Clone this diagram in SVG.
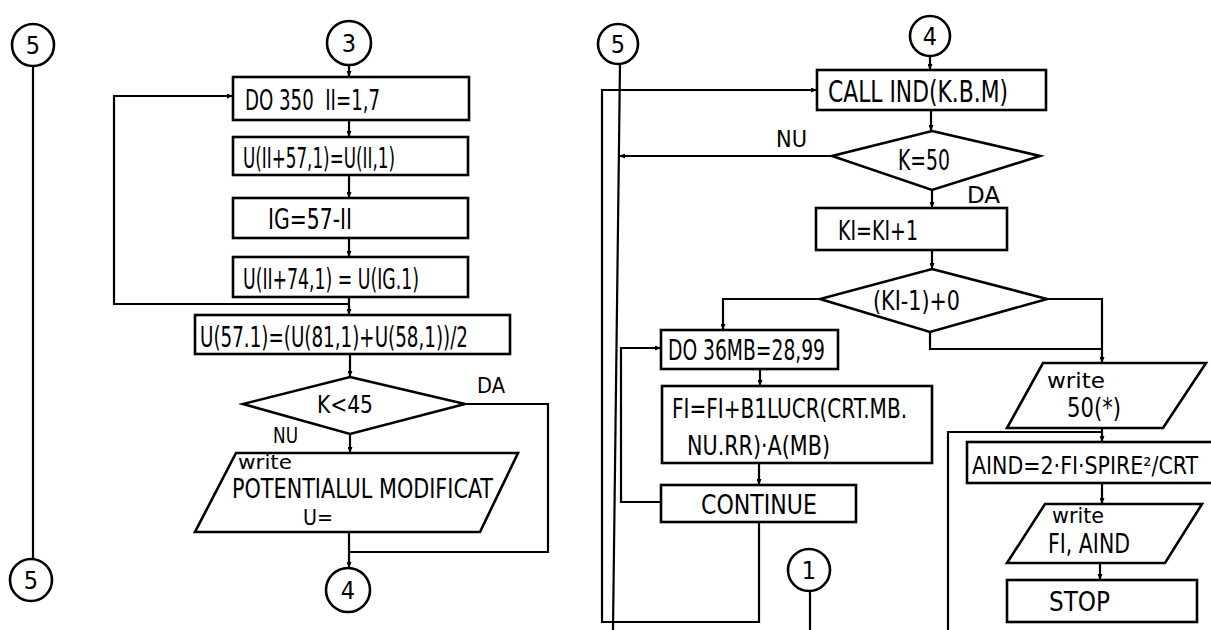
<svg xmlns="http://www.w3.org/2000/svg" width="1211" height="630" viewBox="0 0 1211 630">
<style>
.l{fill:none;stroke:#000;stroke-width:2.2}
.s{fill:#fff;stroke:#000;stroke-width:2.6}
text{font-family:"Liberation Sans Narrow","DejaVu Sans Condensed","Liberation Sans",sans-serif;fill:#000}
.c{text-anchor:middle;font-size:25px}
</style>
<defs>
<marker id="a" markerWidth="6" markerHeight="5" refX="6" refY="2.5" orient="auto" markerUnits="userSpaceOnUse"><path d="M0,0 L6,2.5 L0,5 z" fill="#000"/></marker>
</defs>
<rect width="1211" height="630" fill="#fff"/>
<g id="connectors">
<line class="l" x1="33" y1="67" x2="33" y2="558"/>
<line class="l" x1="349" y1="65" x2="349" y2="77" marker-end="url(#a)"/>
<line class="l" x1="349" y1="120" x2="349" y2="137" marker-end="url(#a)"/>
<line class="l" x1="349" y1="175" x2="349" y2="198" marker-end="url(#a)"/>
<line class="l" x1="349" y1="238" x2="349" y2="257" marker-end="url(#a)"/>
<line class="l" x1="349" y1="297" x2="349" y2="315" marker-end="url(#a)"/>
<polyline class="l" points="349,304 114,304 114,96 233,96" marker-end="url(#a)"/>
<line class="l" x1="350" y1="354" x2="350" y2="377" marker-end="url(#a)"/>
<line class="l" x1="350" y1="434" x2="350" y2="453" marker-end="url(#a)"/>
<line class="l" x1="349" y1="532" x2="349" y2="568" marker-end="url(#a)"/>
<polyline class="l" points="465,404 548,404 548,552 349,552"/>
<line class="l" x1="620" y1="64" x2="613" y2="630"/>
<line class="l" x1="930" y1="56" x2="930" y2="70" marker-end="url(#a)"/>
<line class="l" x1="931" y1="110" x2="931" y2="131" marker-end="url(#a)"/>
<line class="l" x1="832" y1="156" x2="619" y2="156" marker-end="url(#a)"/>
<line class="l" x1="932" y1="190" x2="932" y2="208" marker-end="url(#a)"/>
<line class="l" x1="932" y1="250" x2="932" y2="269" marker-end="url(#a)"/>
<polyline class="l" points="820,299 723,299 723,330" marker-end="url(#a)"/>
<polyline class="l" points="1047,299 1102,299 1102,363" marker-end="url(#a)"/>
<polyline class="l" points="930,332 930,349 1102,349"/>
<line class="l" x1="760" y1="369" x2="760" y2="386" marker-end="url(#a)"/>
<line class="l" x1="759" y1="463" x2="759" y2="485" marker-end="url(#a)"/>
<polyline class="l" points="661,502 621,502 621,348 661,348" marker-end="url(#a)"/>
<polyline class="l" points="759,522 759,622 602,622 602,90 817,90" marker-end="url(#a)"/>
<line class="l" x1="810" y1="591" x2="810" y2="630"/>
<line class="l" x1="1102" y1="428" x2="1102" y2="442" marker-end="url(#a)"/>
<polyline class="l" points="948,630 948,432 1102,432"/>
<line class="l" x1="1102" y1="483" x2="1102" y2="504" marker-end="url(#a)"/>
<line class="l" x1="1100" y1="563" x2="1100" y2="580" marker-end="url(#a)"/>
</g>
<g id="c5a"><circle class="s" cx="33" cy="45" r="21"/><text class="c" x="33" y="54">5</text></g>
<g id="c5b"><circle class="s" cx="31" cy="580" r="21"/><text class="c" x="31" y="589">5</text></g>
<g id="c3"><circle class="s" cx="349" cy="43" r="22"/><text class="c" x="349" y="52">3</text></g>
<g id="do350"><rect class="s" x="233" y="77" width="236" height="43"/><text xml:space="preserve" font-size="29" x="245" y="110" textLength="135" lengthAdjust="spacingAndGlyphs">DO 350  II=1,7</text></g>
<g id="b2"><rect class="s" x="233" y="137" width="235" height="38"/><text font-size="29" x="243" y="168" textLength="152" lengthAdjust="spacingAndGlyphs">U(II+57,1)=U(II,1)</text></g>
<g id="b3"><rect class="s" x="233" y="198" width="235" height="40"/><text font-size="29" x="268" y="229" textLength="84" lengthAdjust="spacingAndGlyphs">IG=57-II</text></g>
<g id="b4"><rect class="s" x="233" y="257" width="235" height="40"/><text font-size="29" x="243" y="289" textLength="176" lengthAdjust="spacingAndGlyphs">U(II+74,1) = U(IG.1)</text></g>
<g id="b5"><rect class="s" x="195" y="315" width="315" height="39"/><text font-size="29" x="200" y="347" textLength="268" lengthAdjust="spacingAndGlyphs">U(57.1)=(U(81,1)+U(58,1))/2</text></g>
<g id="d45"><polygon class="s" points="350,377 465,404 350,434 243,404"/><text font-size="25" x="317" y="413" textLength="56" lengthAdjust="spacingAndGlyphs">K&lt;45</text></g>
<text font-size="22" x="477" y="393" textLength="28" lengthAdjust="spacingAndGlyphs">DA</text>
<text font-size="22" x="273" y="443" textLength="25" lengthAdjust="spacingAndGlyphs">NU</text>
<g id="wpot"><polygon class="s" points="236,453 518,453 480,532 195,532"/><text font-size="19" x="238" y="469" textLength="54" lengthAdjust="spacingAndGlyphs">write</text><text font-size="26" x="232" y="498" textLength="261" lengthAdjust="spacingAndGlyphs">POTENTIALUL MODIFICAT</text><text font-size="22" x="303" y="525" textLength="30" lengthAdjust="spacingAndGlyphs">U=</text></g>
<g id="c4a"><circle class="s" cx="348" cy="590" r="22"/><text class="c" x="348" y="599">4</text></g>
<g id="c5c"><circle class="s" cx="618" cy="44" r="20"/><text class="c" x="618" y="53">5</text></g>
<g id="c4b"><circle class="s" cx="930" cy="36" r="20"/><text class="c" x="930" y="45">4</text></g>
<g id="call"><rect class="s" x="817" y="70" width="229" height="40"/><text font-size="30" x="828" y="102" textLength="180" lengthAdjust="spacingAndGlyphs">CALL IND(K.B.M)</text></g>
<g id="d50"><polygon class="s" points="932,131 1040,156 932,190 832,156"/><text font-size="28" x="898" y="170" textLength="52" lengthAdjust="spacingAndGlyphs">K=50</text></g>
<text font-size="23" x="776" y="147" textLength="31" lengthAdjust="spacingAndGlyphs">NU</text>
<text font-size="23" x="967" y="203" textLength="33" lengthAdjust="spacingAndGlyphs">DA</text>
<g id="ki"><rect class="s" x="816" y="208" width="191" height="42"/><text font-size="26" x="838" y="240" textLength="80" lengthAdjust="spacingAndGlyphs">KI=KI+1</text></g>
<g id="dki"><polygon class="s" points="932,269 1047,299 930,332 820,299"/><text font-size="26" x="873" y="310" textLength="87" lengthAdjust="spacingAndGlyphs">(KI-1)+0</text></g>
<g id="do36"><rect class="s" x="661" y="330" width="177" height="39"/><text font-size="29" x="668" y="360" textLength="157" lengthAdjust="spacingAndGlyphs">DO 36MB=28,99</text></g>
<g id="fi"><rect class="s" x="662" y="386" width="270" height="77"/><text font-size="27" x="672" y="418" textLength="235" lengthAdjust="spacingAndGlyphs">FI=FI+B1LUCR(CRT.MB.</text><text font-size="27" x="687" y="455" textLength="143" lengthAdjust="spacingAndGlyphs">NU.RR)·A(MB)</text></g>
<g id="cont"><rect class="s" x="661" y="485" width="195" height="37"/><text font-size="27" x="701" y="514" textLength="116" lengthAdjust="spacingAndGlyphs">CONTINUE</text></g>
<g id="c1"><circle class="s" cx="809" cy="570" r="21"/><text class="c" x="809" y="579">1</text></g>
<g id="w50"><polygon class="s" points="1043,363 1206,363 1163,428 1007,428"/><text font-size="21" x="1047" y="388" textLength="58" lengthAdjust="spacingAndGlyphs">write</text><text font-size="26" x="1067" y="417" textLength="54" lengthAdjust="spacingAndGlyphs">50(*)</text></g>
<g id="aind"><rect class="s" x="967" y="442" width="250" height="41"/><text font-size="24" x="972" y="474" textLength="226" lengthAdjust="spacingAndGlyphs">AIND=2·FI·SPIRE²/CRT</text></g>
<g id="wfi"><polygon class="s" points="1045,504 1202,504 1165,563 1007,563"/><text font-size="21" x="1052" y="523" textLength="52" lengthAdjust="spacingAndGlyphs">write</text><text font-size="26" x="1048" y="553" textLength="82" lengthAdjust="spacingAndGlyphs">FI, AIND</text></g>
<g id="stop"><rect class="s" x="1007" y="580" width="190" height="42"/><text font-size="27" x="1049" y="611" textLength="61" lengthAdjust="spacingAndGlyphs">STOP</text></g>
</svg>
